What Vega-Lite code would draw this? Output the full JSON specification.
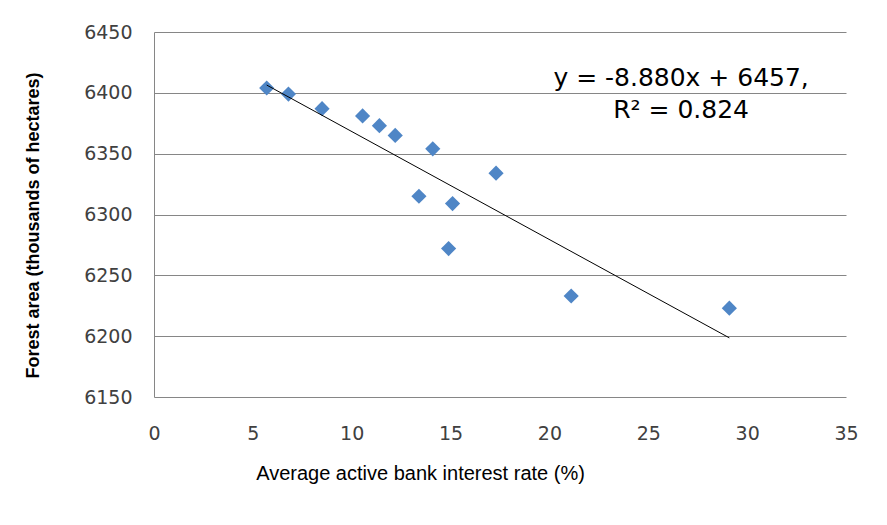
{
  "$schema": "https://vega.github.io/schema/vega-lite/v6.json",
  "width": 692,
  "height": 365,
  "autosize": {"type": "none"},
  "padding": {"left": 154, "top": 32, "right": 41, "bottom": 128},
  "background": "white",
  "config": {"view": {"stroke": null}, "font": "DejaVu Sans"},
  "datasets": {
    "points": [
      {"rate": 5.7, "area": 6404},
      {"rate": 6.8, "area": 6399},
      {"rate": 8.5, "area": 6387},
      {"rate": 10.55, "area": 6381},
      {"rate": 11.4, "area": 6373},
      {"rate": 12.2, "area": 6365},
      {"rate": 14.1, "area": 6354},
      {"rate": 17.3, "area": 6334},
      {"rate": 13.4, "area": 6315},
      {"rate": 15.1, "area": 6309},
      {"rate": 14.9, "area": 6272},
      {"rate": 21.1, "area": 6233},
      {"rate": 29.1, "area": 6223}
    ],
    "trend": [
      {"rate": 5.7, "area": 6406.4},
      {"rate": 29.1, "area": 6198.6}
    ],
    "labels": [
      {"rate": 26.66, "area": 6412, "label": "y = -8.880x + 6457,"},
      {"rate": 26.66, "area": 6386, "label": "R² = 0.824"}
    ]
  },
  "layer": [
    {
      "data": {"name": "points"},
      "mark": {"type": "point", "shape": "diamond", "filled": true, "size": 230, "color": "#4F86C6", "opacity": 1},
      "encoding": {
        "x": {
          "field": "rate", "type": "quantitative",
          "scale": {"domain": [0, 35], "nice": false, "zero": false},
          "axis": {
            "title": "Average active bank interest rate (%)",
            "values": [0, 5, 10, 15, 20, 25, 30, 35],
            "format": "d",
            "labelFlush": false,
            "grid": false, "domain": false, "ticks": false,
            "labelPadding": 27, "labelFontSize": 19, "labelColor": "#404040", "labelFont": "DejaVu Sans",
            "titleFont": "Liberation Sans", "titleFontSize": 20, "titleFontWeight": "normal", "titleColor": "black",
            "titleX": 266, "titleY": 76, "titleBaseline": "middle"
          }
        },
        "y": {
          "field": "area", "type": "quantitative",
          "scale": {"domain": [6150, 6450], "nice": false, "zero": false},
          "axis": {
            "title": "Forest area (thousands of hectares)",
            "values": [6150, 6200, 6250, 6300, 6350, 6400, 6450],
            "format": "d",
            "labelFlush": false,
            "grid": true, "gridColor": "#868686", "gridOpacity": 1,
            "domain": true, "domainColor": "#868686",
            "ticks": false,
            "labelPadding": 22, "labelFontSize": 19, "labelColor": "#404040", "labelFont": "DejaVu Sans",
            "titleFont": "Liberation Sans", "titleFontSize": 18, "titleFontWeight": "bold", "titleColor": "black",
            "titleX": -121, "titleY": 193, "titleBaseline": "middle"
          }
        }
      }
    },
    {
      "data": {"name": "trend"},
      "mark": {"type": "line", "color": "black", "strokeWidth": 1},
      "encoding": {
        "x": {"field": "rate", "type": "quantitative"},
        "y": {"field": "area", "type": "quantitative"}
      }
    },
    {
      "data": {"name": "labels"},
      "mark": {"type": "text", "fontSize": 25, "font": "DejaVu Sans", "align": "center", "baseline": "middle", "color": "black"},
      "encoding": {
        "x": {"field": "rate", "type": "quantitative"},
        "y": {"field": "area", "type": "quantitative"},
        "text": {"field": "label"}
      }
    }
  ]
}
